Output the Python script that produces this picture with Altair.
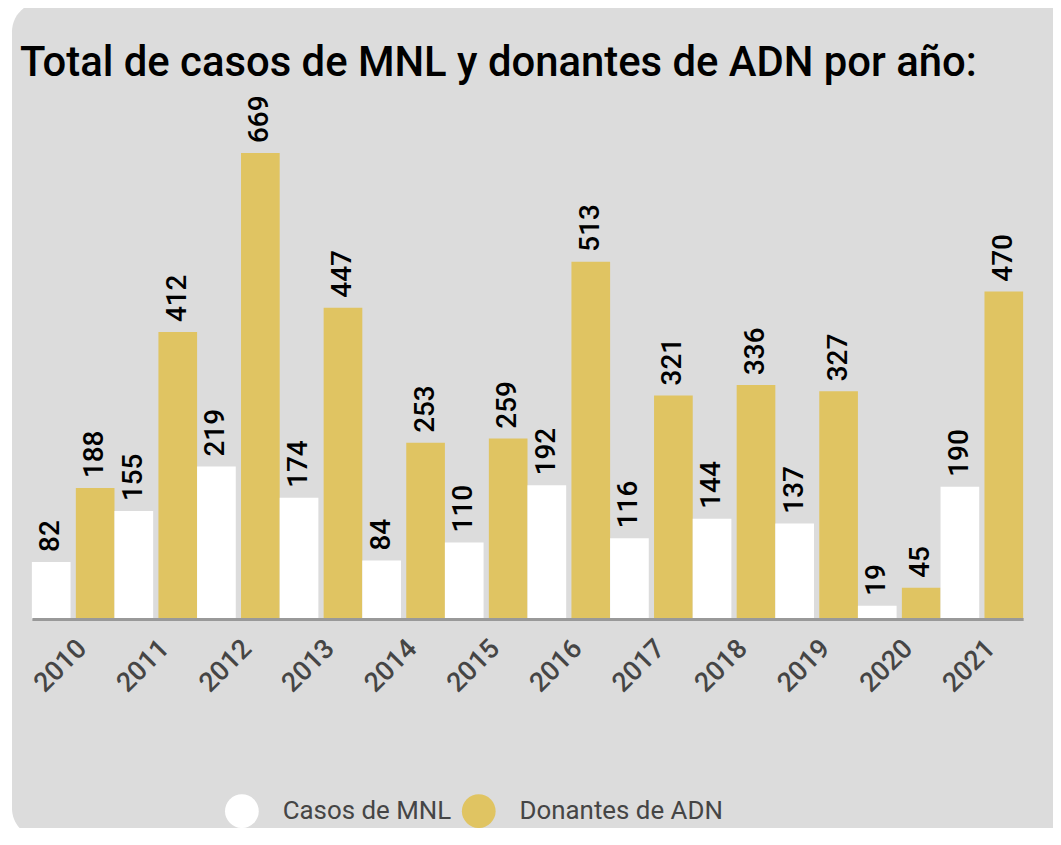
import altair as alt
import pandas as pd

years = ["2010", "2011", "2012", "2013", "2014", "2015", "2016", "2017", "2018", "2019", "2020", "2021"]
casos = [82, 155, 219, 174, 84, 110, 192, 116, 144, 137, 19, 190]
donantes = [188, 412, 669, 447, 253, 259, 513, 321, 336, 327, 45, 470]
series = ["Casos de MNL", "Donantes de ADN"]
colors = ["#ffffff", "#e0c462"]

rows = []
for y, c, d in zip(years, casos, donantes):
    rows.append({"year": y, "serie": series[0], "valor": c})
    rows.append({"year": y, "serie": series[1], "valor": d})
df = pd.DataFrame(rows)

FONT = "Roboto"

x_enc = alt.X("year:N", sort=years,
              scale=alt.Scale(range=[10, 1006], paddingInner=0, paddingOuter=0),
              axis=alt.Axis(title=None, labelAngle=-45, labelFontSize=27, labelColor="#454545",
                            labelFont=FONT, labelFontWeight=500, ticks=False,
                            domainColor="#999999", domainWidth=3,
                            labelPadding=16, zindex=1))
xoff = alt.XOffset("serie:N", sort=series, scale=alt.Scale(paddingInner=0.12, paddingOuter=0))
y_enc = alt.Y("valor:Q", scale=alt.Scale(domain=[0, 700]), axis=None)

panel = alt.Chart(alt.Data(values=[{"a": 1}])).mark_rect(
    color="#dcdcdc", cornerRadius=30
).encode(x=alt.value(-10), x2=alt.value(1200), y=alt.value(-130), y2=alt.value(710))

bars = alt.Chart(df).mark_bar().encode(
    x=x_enc,
    xOffset=xoff,
    y=y_enc,
    color=alt.Color("serie:N", sort=series,
                    scale=alt.Scale(domain=series, range=colors),
                    legend=alt.Legend(title=None, orient="none", direction="horizontal",
                                      legendX=204, legendY=666, symbolType="circle",
                                      symbolSize=1150, symbolStrokeWidth=0, symbolOpacity=1,
                                      labelFontSize=26, labelFont=FONT, labelColor="#454545",
                                      labelLimit=0, labelOffset=24, columnPadding=10, zindex=2)),
)

labels = alt.Chart(df).mark_text(
    angle=270, align="left", baseline="middle", dx=10, fontSize=28, font=FONT,
    fontWeight=500, color="#000000"
).encode(
    x=alt.X("year:N", sort=years),
    xOffset=alt.XOffset("serie:N", sort=series),
    y=alt.Y("valor:Q"),
    text=alt.Text("valor:Q"),
)

chart = alt.layer(panel, bars, labels).properties(
    width=1028, height=490,
    title=alt.Title("Total de casos de MNL y donantes de ADN por año:", anchor="start",
                    font=FONT, fontSize=42, fontWeight=500, color="#000000", offset=-83, dx=8),
    autosize=alt.AutoSizeParams(type="none"),
    padding={"left": 14, "top": 122, "right": 8, "bottom": 208},
).configure(background="#ffffff").configure_view(stroke=None)

chart.save("out.html", embed_options={"renderer": "svg", "actions": False})
